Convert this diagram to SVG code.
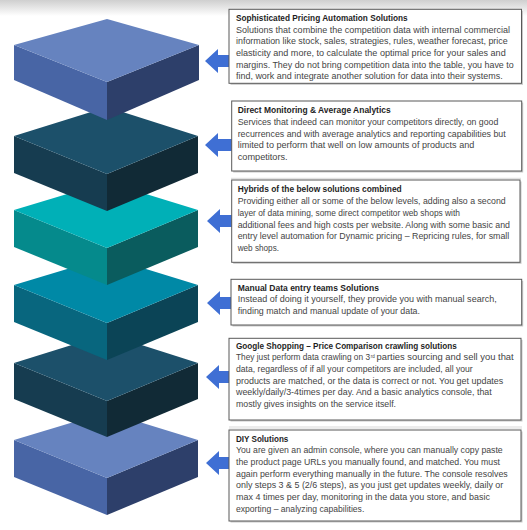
<svg xmlns="http://www.w3.org/2000/svg" width="527" height="530" viewBox="0 0 527 530">
<defs>
<linearGradient id="topShade" x1="0" y1="0" x2="0" y2="1">
<stop offset="0" stop-color="#cfcfcf"/>
<stop offset="1" stop-color="#ffffff"/>
</linearGradient>
<style>
.bg{fill:#ffffff}
.box{fill:#ffffff;stroke:#595959;stroke-width:1}
.shadow{fill:#c8c8c8}
.t{font-family:"Liberation Sans",Arial,sans-serif;font-size:9px;fill:#444444}
.sup{font-family:"Liberation Sans",Arial,sans-serif;font-size:4.5px;fill:#444444}
.h{font-family:"Liberation Sans",Arial,sans-serif;font-size:9px;font-weight:bold;fill:#1e1e1e}
.arrow{fill:#3f6fd4}
.b1top{fill:#6683bf}.b1l{fill:#4865a5}.b1r{fill:#2d3f6a}
.b2top{fill:#1c506a}.b2l{fill:#163c50}.b2r{fill:#112a36}
.b3top{fill:#00b0b7}.b3l{fill:#058a8c}.b3r{fill:#0a5c5e}
.b4top{fill:#0089a6}.b4l{fill:#08667e}.b4r{fill:#0b4456}
.sep{stroke:#e2e2e2;stroke-width:1.5}
</style>
</defs>
<rect class="bg" x="0" y="0" width="527" height="530"/>
<rect x="0" y="0" width="527" height="16" fill="url(#topShade)"/>
<line class="sep" x1="231" y1="178.5" x2="521" y2="178.5"/>
<rect x="229" y="426" width="293" height="3" fill="#ececec"/>

<!-- blocks drawn bottom to top so upper ones overlap -->
<g id="block-6">
<polygon class="b1l" points="14,440 107,478 107,515 14,477"/>
<polygon class="b1r" points="198,440 107,478 107,515 198,477"/>
<polygon class="b1top" points="107,412 198,440 107,478 14,440"/>
</g>
<g id="block-5">
<polygon class="b2l" points="14,363 107,401 107,437 14,399"/>
<polygon class="b2r" points="198,363 107,401 107,437 198,399"/>
<polygon class="b2top" points="107,334 198,363 107,401 14,363"/>
</g>
<g id="block-4">
<polygon class="b4l" points="14,285 107,323 107,360 14,322"/>
<polygon class="b4r" points="198,285 107,323 107,360 198,322"/>
<polygon class="b4top" points="107,257 198,285 107,323 14,285"/>
</g>
<g id="block-3">
<polygon class="b3l" points="14,210 107,248 107,285 14,247"/>
<polygon class="b3r" points="198,210 107,248 107,285 198,247"/>
<polygon class="b3top" points="107,182 198,210 107,248 14,210"/>
</g>
<g id="block-2">
<polygon class="b2l" points="14,136 107,174 107,211 14,173"/>
<polygon class="b2r" points="198,136 107,174 107,211 198,173"/>
<polygon class="b2top" points="107,107 198,136 107,174 14,136"/>
</g>
<g id="block-1">
<polygon class="b1l" points="14,45 107,82 107,120 14,80"/>
<polygon class="b1r" points="199,45 107,82 107,120 199,80"/>
<polygon class="b1top" points="107,19 199,45 107,82 14,45"/>
</g>

<g id="connectors">
<path class="arrow" d="M205,61 L218,49 L218,55 L230,55 L230,67 L218,67 L218,73 Z"/>
<path class="arrow" d="M205,145 L218,133 L218,139 L232,139 L232,151 L218,151 L218,157 Z"/>
<path class="arrow" d="M207,221 L220,209 L220,215 L232,215 L232,227 L220,227 L220,233 Z"/>
<path class="arrow" d="M207,303 L220,291 L220,297 L231,297 L231,309 L220,309 L220,315 Z"/>
<path class="arrow" d="M206,377 L219,365 L219,371 L230,371 L230,383 L219,383 L219,389 Z"/>
<path class="arrow" d="M206,463 L219,451 L219,457 L230,457 L230,469 L219,469 L219,475 Z"/>
</g>

<g id="box-1">
<rect class="shadow" x="230.5" y="10.8" width="292.5" height="74"/>
<rect class="box" x="229" y="9.3" width="292.5" height="74"/>
<text class="h" x="236" y="20.7" textLength="171.7" lengthAdjust="spacingAndGlyphs">Sophisticated Pricing Automation Solutions</text>
<text class="t" x="236" y="32.7" textLength="274" lengthAdjust="spacingAndGlyphs">Solutions that combine the competition data with internal commercial</text>
<text class="t" x="236" y="44.3" textLength="271.7" lengthAdjust="spacingAndGlyphs">information like stock, sales, strategies, rules, weather forecast, price</text>
<text class="t" x="236" y="56" textLength="269.7" lengthAdjust="spacingAndGlyphs">elasticity and more, to calculate the optimal price for your sales and</text>
<text class="t" x="236" y="67.7" textLength="277.7" lengthAdjust="spacingAndGlyphs">margins. They do not bring competition data into the table, you have to</text>
<text class="t" x="236" y="79.3" textLength="266.7" lengthAdjust="spacingAndGlyphs">find, work and integrate another solution for data into their systems.</text>
</g>

<g id="box-2">
<rect class="shadow" x="233.2" y="102.5" width="290" height="70"/>
<rect class="box" x="231.7" y="101" width="290" height="70"/>
<text class="h" x="237.7" y="113.3" textLength="153" lengthAdjust="spacingAndGlyphs">Direct Monitoring &amp; Average Analytics</text>
<text class="t" x="237.7" y="125" textLength="260.6" lengthAdjust="spacingAndGlyphs">Services that indeed can monitor your competitors directly, on good</text>
<text class="t" x="237.7" y="136.7" textLength="268" lengthAdjust="spacingAndGlyphs">recurrences and with average analytics and reporting capabilities but</text>
<text class="t" x="237.7" y="148.3" textLength="236.6" lengthAdjust="spacingAndGlyphs">limited to perform that well on low amounts of products and</text>
<text class="t" x="237.7" y="160" textLength="50" lengthAdjust="spacingAndGlyphs">competitors.</text>
</g>

<g id="box-3">
<rect class="shadow" x="233.2" y="181.5" width="288.3" height="82.3"/>
<rect class="box" x="231.7" y="180" width="288.3" height="82.3"/>
<text class="h" x="237.7" y="192.3" textLength="164" lengthAdjust="spacingAndGlyphs">Hybrids of the below solutions combined</text>
<text class="t" x="237.7" y="204.3" textLength="268" lengthAdjust="spacingAndGlyphs">Providing either all or some of the below levels, adding also a second</text>
<text class="t" x="237.7" y="216" textLength="222.3" lengthAdjust="spacingAndGlyphs">layer of data mining, some direct competitor web shops with</text>
<text class="t" x="237.7" y="227.7" textLength="272.3" lengthAdjust="spacingAndGlyphs">additional fees and high costs per website. Along with some basic and</text>
<text class="t" x="237.7" y="239.3" textLength="271.6" lengthAdjust="spacingAndGlyphs">entry level automation for Dynamic pricing – Repricing rules, for small</text>
<text class="t" x="237.7" y="251" textLength="41.3" lengthAdjust="spacingAndGlyphs">web shops.</text>
</g>

<g id="box-4">
<rect class="shadow" x="232.5" y="280.8" width="290.7" height="45.7"/>
<rect class="box" x="231" y="279.3" width="290.7" height="45.7"/>
<text class="h" x="237.7" y="290.7" textLength="141.3" lengthAdjust="spacingAndGlyphs">Manual Data entry teams Solutions</text>
<text class="t" x="237.7" y="302" textLength="259" lengthAdjust="spacingAndGlyphs">Instead of doing it yourself, they provide you with manual search,</text>
<text class="t" x="237.7" y="313.6" textLength="182.3" lengthAdjust="spacingAndGlyphs">finding match and manual update of your data.</text>
</g>

<g id="box-5">
<rect class="shadow" x="230.5" y="339.8" width="292" height="81.7"/>
<rect class="box" x="229" y="338.3" width="292" height="81.7"/>
<text class="h" x="236" y="348.8" textLength="220.7" lengthAdjust="spacingAndGlyphs">Google Shopping – Price Comparison crawling solutions</text>
<text class="t" x="236" y="360.3" textLength="134" lengthAdjust="spacingAndGlyphs">They just perform data crawling on 3</text>
<text class="sup" x="370.8" y="358.4">rd</text>
<text class="t" x="376.5" y="360.3" textLength="137.2" lengthAdjust="spacingAndGlyphs">parties sourcing and sell you that</text>
<text class="t" x="236" y="372" textLength="236.7" lengthAdjust="spacingAndGlyphs">data, regardless of if all your competitors are included, all your</text>
<text class="t" x="236" y="383.6" textLength="267.3" lengthAdjust="spacingAndGlyphs">products are matched, or the data is correct or not. You get updates</text>
<text class="t" x="236" y="395.3" textLength="255.7" lengthAdjust="spacingAndGlyphs">weekly/daily/3-4times per day. And a basic analytics console, that</text>
<text class="t" x="236" y="407" textLength="160" lengthAdjust="spacingAndGlyphs">mostly gives insights on the service itself.</text>
</g>

<g id="box-6">
<rect class="shadow" x="230.5" y="431.5" width="292" height="91"/>
<rect class="box" x="229" y="430" width="292" height="91"/>
<text class="h" x="236" y="441.7" textLength="52.3" lengthAdjust="spacingAndGlyphs">DIY Solutions</text>
<text class="t" x="236" y="453.3" textLength="266.7" lengthAdjust="spacingAndGlyphs">You are given an admin console, where you can manually copy paste</text>
<text class="t" x="236" y="465" textLength="264" lengthAdjust="spacingAndGlyphs">the product page URLs you manually found, and matched. You must</text>
<text class="t" x="236" y="476.7" textLength="271.7" lengthAdjust="spacingAndGlyphs">again perform everything manually in the future. The console resolves</text>
<text class="t" x="236" y="488.3" textLength="267.3" lengthAdjust="spacingAndGlyphs">only steps 3 &amp; 5 (2/6 steps), as you just get updates weekly, daily or</text>
<text class="t" x="236" y="500" textLength="254" lengthAdjust="spacingAndGlyphs">max 4 times per day, monitoring in the data you store, and basic</text>
<text class="t" x="236" y="511.7" textLength="128.3" lengthAdjust="spacingAndGlyphs">exporting – analyzing capabilities.</text>
</g>
</svg>
